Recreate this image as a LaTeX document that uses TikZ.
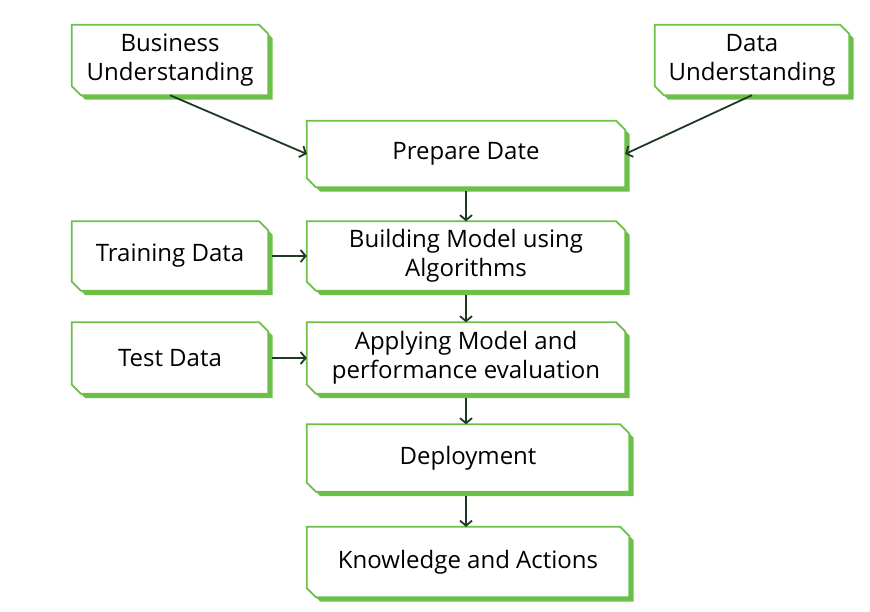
\documentclass[tikz,border=0pt]{standalone}
\usepackage{fontspec}
\setmainfont{Open Sans}
\usetikzlibrary{arrows.meta,backgrounds}
\definecolor{boxgreen}{HTML}{6CC04A}
\definecolor{linegreen}{HTML}{1F3A22}
\tikzset{
  box/.style={inner sep=0pt, align=center, font=\fontsize{24}{29}\selectfont, text=black},
  conn/.style={draw=linegreen, line width=1.8pt, -{Straight Barb[length=5pt,width=12pt,line width=1.8pt]}},
}
\newcommand\chamshape[2]{% node, chamfer
  (#1.north west) -- ([xshift=-#2]#1.north east) -- ([yshift=-#2]#1.north east)
  -- (#1.south east) -- ([xshift=#2]#1.south west) -- ([yshift=#2]#1.south west) -- cycle}
\newcommand\chambox[1]{%
  \begin{scope}[on background layer]
    \fill[boxgreen, transform canvas={xshift=4.5pt,yshift=-4.5pt}] \chamshape{#1}{9pt};
    \filldraw[fill=white, draw=boxgreen, line width=1.8pt] \chamshape{#1}{9pt};
  \end{scope}}
\begin{document}
\begin{tikzpicture}[x=1pt,y=-1pt]
\useasboundingbox (0,0) rectangle (870,611);
\node[box, minimum width=196pt, minimum height=70pt] (bu) at (170,60) {Business\\Understanding};
\node[box, minimum width=194pt, minimum height=70pt] (du) at (752,60) {Data\\Understanding};
\node[box, minimum width=318pt, minimum height=66pt] (pd) at (466,154) {Prepare Date};
\node[box, minimum width=318pt, minimum height=69pt] (bm) at (466,256) {Building Model using\\Algorithms};
\node[box, minimum width=196pt, minimum height=69pt] (tr) at (170,256) {Training Data};
\node[box, minimum width=318pt, minimum height=71pt] (am) at (466,358) {Applying Model and\\performance evaluation};
\node[box, minimum width=196pt, minimum height=71pt] (te) at (170,358) {Test Data};
\node[box, minimum width=322pt, minimum height=67pt] (de) at (468,458) {Deployment};
\node[box, minimum width=322pt, minimum height=70pt] (ka) at (468,562) {Knowledge and Actions};
\foreach \n in {bu,du,pd,bm,tr,am,te,de,ka} {\chambox{\n}}
\draw[conn] (bu.south) -- (pd.west);
\draw[conn] (du.south) -- (pd.east);
\draw[conn] ([yshift=-4pt]pd.south) -- (bm.north);
\draw[conn] ([yshift=-4pt]bm.south) -- (am.north);
\draw[conn] ([yshift=-4pt]am.south) -- (am.south |- de.north);
\draw[conn] ([yshift=-4pt]am.south |- de.south) -- (am.south |- ka.north);
\draw[conn] ([xshift=4pt]tr.east) -- (bm.west);
\draw[conn] ([xshift=4pt]te.east) -- (am.west);
\end{tikzpicture}
\end{document}
